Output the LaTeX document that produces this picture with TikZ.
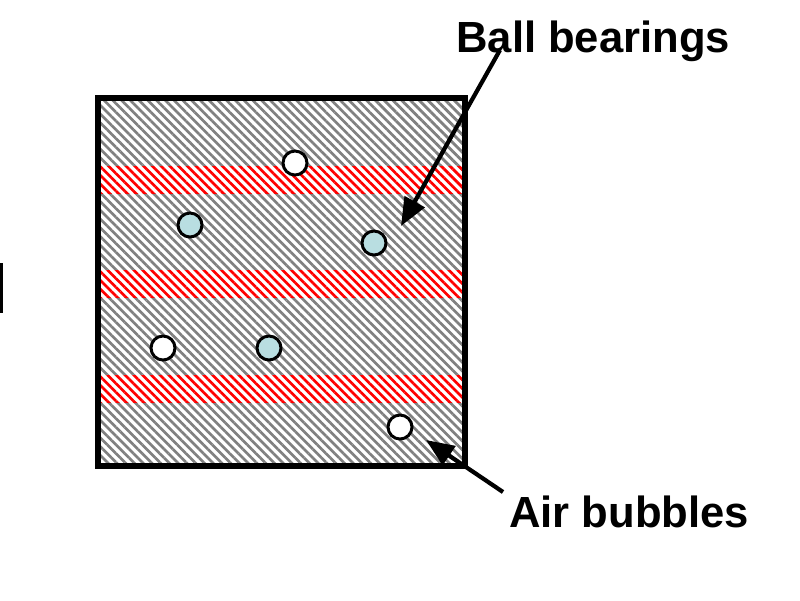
\documentclass[tikz,border=0pt]{standalone}
\usepackage{fontspec}
\setmainfont{Liberation Sans}
\usetikzlibrary{patterns.meta,arrows.meta}
\definecolor{bearing}{RGB}{185,222,225}
\definecolor{hatchgray}{RGB}{128,128,128}

\begin{document}
\begin{tikzpicture}[x=0.025cm, y=-0.025cm,
    hatch/.style={pattern={Lines[angle=-45, distance=4.4pt, line width=2pt]}, pattern color=hatchgray},
    band/.style={preaction={fill=white}, pattern={Lines[angle=-45, distance=4.4pt, line width=2pt]}, pattern color=red},
    ball/.style={draw, circle, line width=2.1pt, minimum size=0.6cm, inner sep=0pt, fill=bearing},
    bubble/.style={ball, fill=white},
    label/.style={font=\fontsize{31}{37}\selectfont\bfseries, inner sep=0pt, anchor=base west},
    pointer/.style={line width=3pt, -{Triangle[length=0.7cm, width=0.56cm]}}
]
\path[use as bounding box, fill=white] (0,0) rectangle (800,600);

% Edge of the next panel
\draw[line width=0.15cm] (0,263) -- (0,313);

% Hatched cell
\path[hatch] (98,98) rectangle (465,466);

% Red layers
\foreach \y in {166,270,375}
  \path[band] (98,\y) rectangle (465,\y+27);
\draw[line width=4.3pt] (98,98) rectangle (465,466);

% Air bubbles and ball bearings
\node[bubble] (a1) at (295,163) {};
\node[ball] (b1) at (190,225) {};
\node[ball] (b2) at (374,243) {};
\node[bubble] (a2) at (163,348) {};
\node[ball] (b3) at (269,348) {};
\node[bubble] (a3) at (400,427) {};

% Labels
\node[label] (balllbl) at (456,52) {Ball bearings};
\node[label] (airlbl) at (509,527) {Air bubbles};

% Pointers
\coordinate (balltail) at (500,50);
\coordinate (balltip) at (401,226);
\coordinate (airtail) at (503,492);
\coordinate (airtip) at (426,440);
\draw[pointer] (balltail) -- (balltip);
\draw[pointer] (airtail) -- (airtip);

\end{tikzpicture}
\end{document}
